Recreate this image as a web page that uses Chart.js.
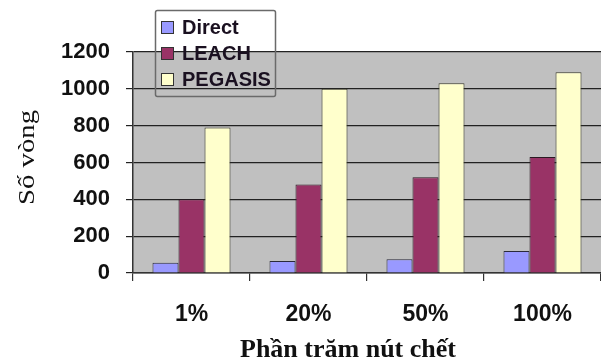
<!DOCTYPE html>
<html>
<head>
<meta charset="utf-8">
<script src="https://cdn.jsdelivr.net/npm/chart.js@4.4.1/dist/chart.umd.min.js"></script>
<style>
html,body{margin:0;padding:0;background:#fff;}
#wrap{width:601px;height:361px;}
</style>
</head>
<body>
<div id="wrap"><canvas id="c" width="601" height="361"></canvas></div>
<script>
const categories = ['1%', '20%', '50%', '100%'];
const directValues = [55, 65, 75, 120];
const leachValues = [400, 480, 520, 630];
const pegasisValues = [790, 1000, 1030, 1090];
const seriesNames = ['Direct', 'LEACH', 'PEGASIS'];
const yTitle = 'Số vòng';
const xTitle = 'Phần trăm nút chết';

const plotBg = {
  id: 'plotBg',
  beforeDraw(chart) {
    const {ctx, chartArea: a} = chart;
    ctx.save();
    ctx.fillStyle = '#C0C0C0';
    ctx.fillRect(a.left, a.top, a.right - a.left, a.bottom - a.top);
    ctx.restore();
  }
};

const customLegend = {
  id: 'customLegend',
  afterDraw(chart) {
    const ctx = chart.ctx;
    ctx.save();
    ctx.strokeStyle = '#6a6a6a';
    ctx.lineWidth = 1.5;
    ctx.beginPath();
    ctx.roundRect(155.5, 10.5, 120, 86, 2);
    ctx.stroke();
    ctx.font = 'bold 20px "Liberation Sans", Arial, sans-serif';
    ctx.textBaseline = 'middle';
    chart.data.datasets.forEach((ds, i) => {
      const cy = 27.5 + i * 26;
      ctx.fillStyle = ds.backgroundColor;
      ctx.fillRect(161.5, cy - 6, 12, 12);
      ctx.strokeStyle = '#333';
      ctx.lineWidth = 1;
      ctx.strokeRect(161.5, cy - 6, 12, 12);
      ctx.fillStyle = '#1a1020';
      ctx.fillText(ds.label, 182, cy + 1);
    });
    ctx.restore();
  }
};

const axisTitles = {
  id: 'axisTitles',
  afterDraw(chart) {
    const ctx = chart.ctx;
    ctx.save();
    ctx.fillStyle = '#111';
    ctx.font = 'bold 26px "Liberation Serif", "Times New Roman", serif';
    ctx.textAlign = 'center';
    ctx.textBaseline = 'alphabetic';
    ctx.fillText(xTitle, 348, 357);
    ctx.translate(34, 157.5);
    ctx.rotate(-Math.PI / 2);
    ctx.scale(1.2, 1);
    ctx.font = '24px "Liberation Serif", "Times New Roman", serif';
    ctx.fillText(yTitle, 0, 0);
    ctx.restore();
  }
};

new Chart(document.getElementById('c'), {
  type: 'bar',
  data: {
    labels: categories,
    datasets: [
      {label: seriesNames[0], data: directValues, backgroundColor: '#9999FF', borderColor: '#2a2a3a', borderWidth: 1},
      {label: seriesNames[1], data: leachValues, backgroundColor: '#993366', borderColor: '#2a1a22', borderWidth: 1},
      {label: seriesNames[2], data: pegasisValues, backgroundColor: '#FFFFCC', borderColor: '#3a3a2a', borderWidth: 1}
    ]
  },
  options: {
    responsive: false,
    animation: false,
    layout: {padding: {top: 52, right: 0, left: 0, bottom: 0}},
    datasets: {bar: {categoryPercentage: 0.667, barPercentage: 1}},
    plugins: {legend: {display: false}, tooltip: {enabled: false}, title: {display: false}},
    scales: {
      x: {
        afterFit(s) { s.height = 88; },
        grid: {offset: true, drawOnChartArea: false, drawTicks: true, tickLength: 8, color: '#333', lineWidth: 1.2},
        border: {display: true, color: '#333', width: 1.5},
        ticks: {padding: 20, color: '#111', font: {family: '"Liberation Sans", Arial, sans-serif', size: 23, weight: 'bold'}}
      },
      y: {
        min: 0, max: 1200,
        afterFit(s) { s.width = 133; },
        grid: {color: '#222', lineWidth: 1.2, drawTicks: true, tickLength: 7},
        border: {display: true, color: '#333', width: 1.5},
        ticks: {stepSize: 200, padding: 16, color: '#111', callback: v => String(v), font: {family: '"Liberation Sans", Arial, sans-serif', size: 22, weight: 'bold'}}
      }
    }
  },
  plugins: [plotBg, customLegend, axisTitles]
});
</script>
</body>
</html>
